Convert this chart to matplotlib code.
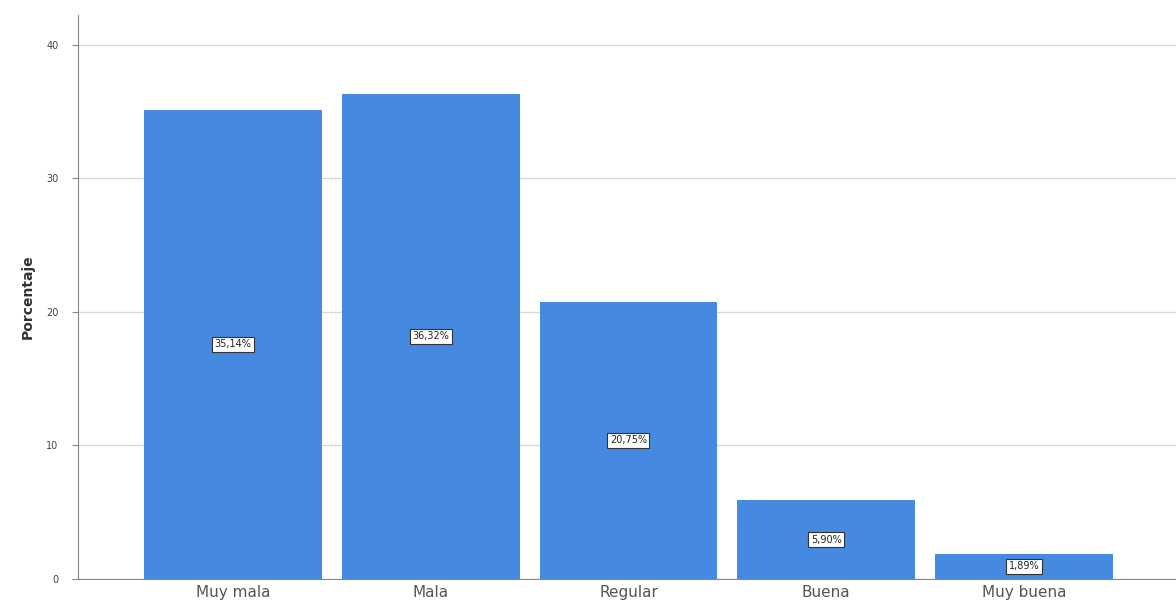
import matplotlib.pyplot as plt
import numpy as np

categories = ["Muy mala", "Mala", "Regular", "Buena", "Muy buena"]
values = [35.14, 36.32, 20.75, 5.90, 1.89]
labels = ["35,14%", "36,32%", "20,75%", "5,90%", "1,89%"]
yticks = [0, 10, 20, 30, 40]

fig = plt.figure(figsize=(11.76, 6.11), dpi=100)
ax = fig.add_axes([0.0663, 0.0524, 0.9337, 0.9226])

x = np.arange(len(categories))
ax.bar(x, values, width=0.9, color="#4589e0", zorder=2)

for xi, v, lab in zip(x, values, labels):
    ax.text(xi, v / 2, lab, ha="center", va="center", fontsize=7, color="#222222",
            bbox=dict(boxstyle="square,pad=0.25", fc="white", ec="#333333", lw=0.8),
            zorder=3)

ax.set_xlim(-0.785, 4.77)
ax.set_ylim(0, 42.2)
ax.set_xticks(x)
ax.set_xticklabels(categories, fontsize=11, color="#555555")
ax.set_yticks(yticks)
ax.set_yticklabels([str(t) for t in yticks], fontsize=7, color="#444444")
ax.tick_params(axis="x", length=0, pad=4)
ax.tick_params(axis="y", length=4, color="#888888", pad=10)
ax.yaxis.grid(True, color="#d8d8d8", lw=1, zorder=0)
ax.set_ylabel("Porcentaje", fontsize=10, fontweight="bold", color="#333333", labelpad=8)

for s in ["top", "right"]:
    ax.spines[s].set_visible(False)
for s in ["left", "bottom"]:
    ax.spines[s].set_color("#888888")

fig.savefig("out.png", dpi=100)
